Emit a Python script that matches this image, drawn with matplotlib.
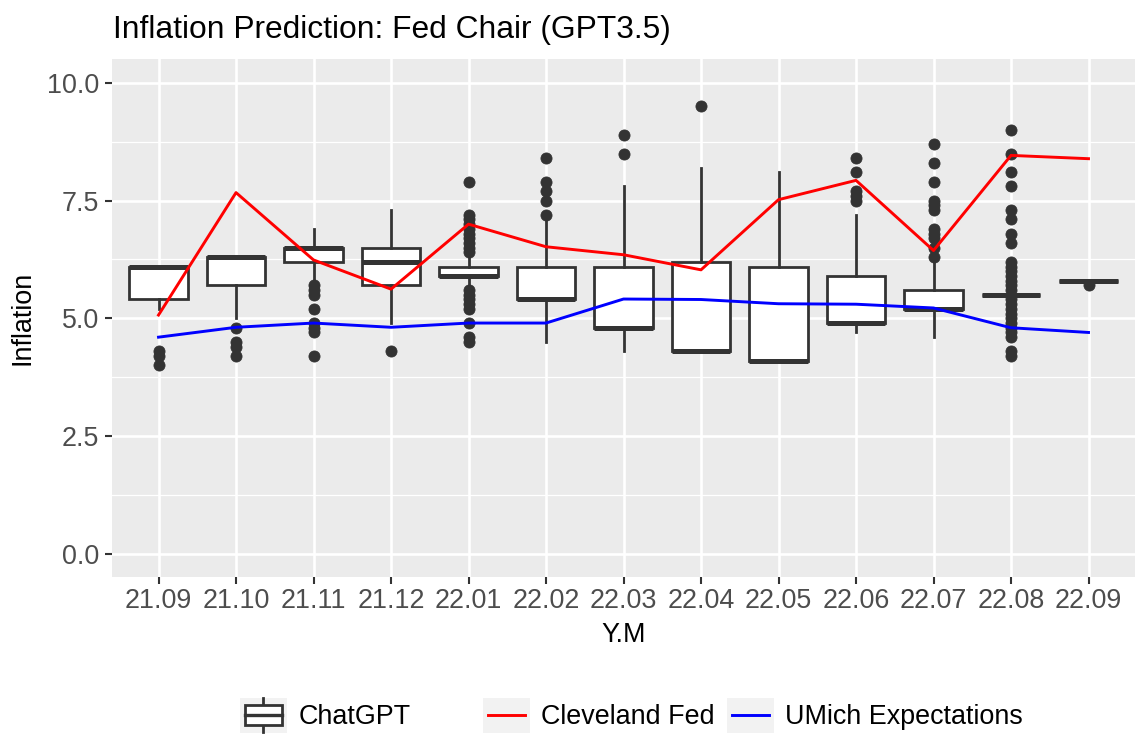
import matplotlib
matplotlib.use("Agg")
import matplotlib.pyplot as plt
from matplotlib.legend_handler import HandlerBase
from matplotlib.patches import Rectangle
from matplotlib.lines import Line2D

plt.rcParams['font.family'] = ['Liberation Sans', 'DejaVu Sans']

# ---- data ----
months = ['21.09', '21.10', '21.11', '21.12', '22.01', '22.02', '22.03',
          '22.04', '22.05', '22.06', '22.07', '22.08', '22.09']

q1 = [5.4, 5.7, 6.2, 5.7, 5.9, 5.4, 4.8, 4.3, 4.1, 4.9, 5.2, 5.5, 5.8]
med = [6.1, 6.3, 6.5, 6.2, 5.9, 5.4, 4.8, 4.3, 4.1, 4.9, 5.2, 5.5, 5.8]
q3 = [6.1, 6.3, 6.5, 6.5, 6.1, 6.1, 6.1, 6.2, 6.1, 5.9, 5.6, 5.5, 5.8]
whis_lo = [5.2, 5.0, 5.8, 4.9, 5.7, 4.5, 4.3, 4.3, 4.1, 4.7, 4.6, 5.5, 5.8]
whis_hi = [6.1, 6.3, 6.9, 7.3, 6.3, 7.1, 7.8, 8.2, 8.1, 7.2, 6.2, 5.5, 5.8]
outliers = [
    [4.3, 4.2, 4.0],
    [4.8, 4.5, 4.4, 4.2],
    [5.7, 5.6, 5.5, 5.2, 4.9, 4.8, 4.7, 4.2],
    [4.3],
    [7.9, 7.2, 7.1, 7.0, 6.9, 6.8, 6.7, 6.6, 6.5, 6.4,
     5.6, 5.5, 5.4, 5.3, 5.2, 4.9, 4.6, 4.5],
    [8.4, 7.9, 7.7, 7.5, 7.2],
    [8.9, 8.5],
    [9.5],
    [],
    [8.4, 8.1, 7.7, 7.6, 7.5],
    [8.7, 8.3, 7.9, 7.5, 7.4, 7.3, 6.9, 6.8, 6.7, 6.5, 6.3],
    [9.0, 8.5, 8.1, 7.8, 7.3, 7.1, 6.8, 6.6, 6.2, 6.1, 6.0, 5.9, 5.8, 5.7,
     5.6, 5.4, 5.3, 5.2, 5.1, 5.0, 4.9, 4.8, 4.7, 4.6, 4.3, 4.2],
    [5.7],
]

cleveland_fed = [5.07, 7.67, 6.24, 5.62, 7.0, 6.52, 6.35, 6.03, 7.52, 7.93, 6.44, 8.46, 8.39]
umich = [4.6, 4.81, 4.9, 4.81, 4.9, 4.9, 5.41, 5.4, 5.31, 5.3, 5.22, 4.8, 4.7]

DARK = '#333333'
BOX_LW = 2.0
MED_LW = 3.6

fig = plt.figure(figsize=(11.35, 7.38), dpi=100)
ax = fig.add_axes([0.0987, 0.2177, 0.9013, 0.7019])
ax.set_facecolor('#EBEBEB')
for s in ax.spines.values():
    s.set_visible(False)

pos = list(range(1, len(months) + 1))
stats = []
for i in range(len(months)):
    stats.append(dict(q1=q1[i], med=med[i], q3=q3[i], whislo=whis_lo[i],
                      whishi=whis_hi[i], fliers=outliers[i]))

ax.bxp(stats, positions=pos, widths=0.75, patch_artist=True, showcaps=False,
       boxprops=dict(facecolor='white', edgecolor=DARK, linewidth=BOX_LW),
       whiskerprops=dict(color=DARK, linewidth=BOX_LW),
       medianprops=dict(color=DARK, linewidth=MED_LW, solid_capstyle='butt'),
       flierprops=dict(marker='o', markerfacecolor=DARK, markeredgecolor=DARK,
                       markersize=8, markeredgewidth=0.6),
       zorder=3)

ax.plot(pos, cleveland_fed, color='red', lw=2.1, zorder=4)
ax.plot(pos, umich, color='blue', lw=2.1, zorder=4)

ax.set_xlim(0.4, 13.6)
ax.set_ylim(-0.5, 10.5)
ax.set_xticks(pos)
ax.set_xticklabels(months)
ax.set_yticks([0, 2.5, 5, 7.5, 10])
ax.set_yticklabels(['0.0', '2.5', '5.0', '7.5', '10.0'])
ax.set_yticks([1.25, 3.75, 6.25, 8.75], minor=True)
ax.grid(which='major', color='white', lw=1.9)
ax.grid(which='minor', axis='y', color='white', lw=0.9)
ax.set_axisbelow(True)
ax.tick_params(axis='both', which='major', colors=DARK, length=5, width=1.5,
               labelsize=19.4, labelcolor='#4D4D4D')
ax.tick_params(axis='x', pad=2.5)
ax.tick_params(axis='y', pad=4.5)
ax.tick_params(which='minor', length=0)

ax.set_xlabel('Y.M', fontsize=19.4, labelpad=6)
ax.set_ylabel('Inflation', fontsize=19.4, labelpad=8)
fig.text(0.0996, 0.9485, 'Inflation Prediction: Fed Chair (GPT3.5)',
         fontsize=22.9, va='baseline', ha='left')


# ---- legend keys in ggplot style ----
class BoxKey(HandlerBase):
    def create_artists(self, legend, orig_handle, xd, yd, w, h, fontsize, trans):
        x0, y0 = -xd, -yd
        bg = Rectangle((x0, y0), w, h, fc='#F2F2F2', ec='none', transform=trans)
        box = Rectangle((x0 + 0.1 * w, y0 + 0.22 * h), 0.8 * w, 0.56 * h,
                        fc='white', ec=DARK, lw=BOX_LW, transform=trans)
        mid = Line2D([x0 + 0.1 * w, x0 + 0.9 * w], [y0 + 0.5 * h] * 2,
                     color=DARK, lw=BOX_LW * 1.2, transform=trans)
        lo = Line2D([x0 + 0.5 * w] * 2, [y0 + 0.02 * h, y0 + 0.22 * h],
                    color=DARK, lw=BOX_LW, transform=trans)
        hi = Line2D([x0 + 0.5 * w] * 2, [y0 + 0.78 * h, y0 + 0.98 * h],
                    color=DARK, lw=BOX_LW, transform=trans)
        return [bg, lo, hi, box, mid]


class LineKey(HandlerBase):
    def create_artists(self, legend, orig_handle, xd, yd, w, h, fontsize, trans):
        x0, y0 = -xd, -yd
        bg = Rectangle((x0, y0), w, h, fc='#F2F2F2', ec='none', transform=trans)
        ln = Line2D([x0 + 0.1 * w, x0 + 0.9 * w], [y0 + 0.5 * h] * 2,
                    color=orig_handle.get_color(), lw=2.1, transform=trans)
        return [bg, ln]


box_handle = Rectangle((0, 0), 1, 1)
red_handle = Line2D([], [], color='red')
blue_handle = Line2D([], [], color='blue')

entries = [(box_handle, 'ChatGPT', BoxKey(), 240),
           (red_handle, 'Cleveland Fed', LineKey(), 483),
           (blue_handle, 'UMich Expectations', LineKey(), 727)]
for h, lab, handler, xpx in entries:
    leg = fig.legend([h], [lab], handler_map={type(h): handler},
                     loc='center left', bbox_to_anchor=(xpx / 1135, 0.031),
                     frameon=False, fontsize=19.4, borderpad=0, borderaxespad=0,
                     handlelength=1.74, handleheight=1.63, handletextpad=0.42)

fig.savefig('out.png', dpi=100)
